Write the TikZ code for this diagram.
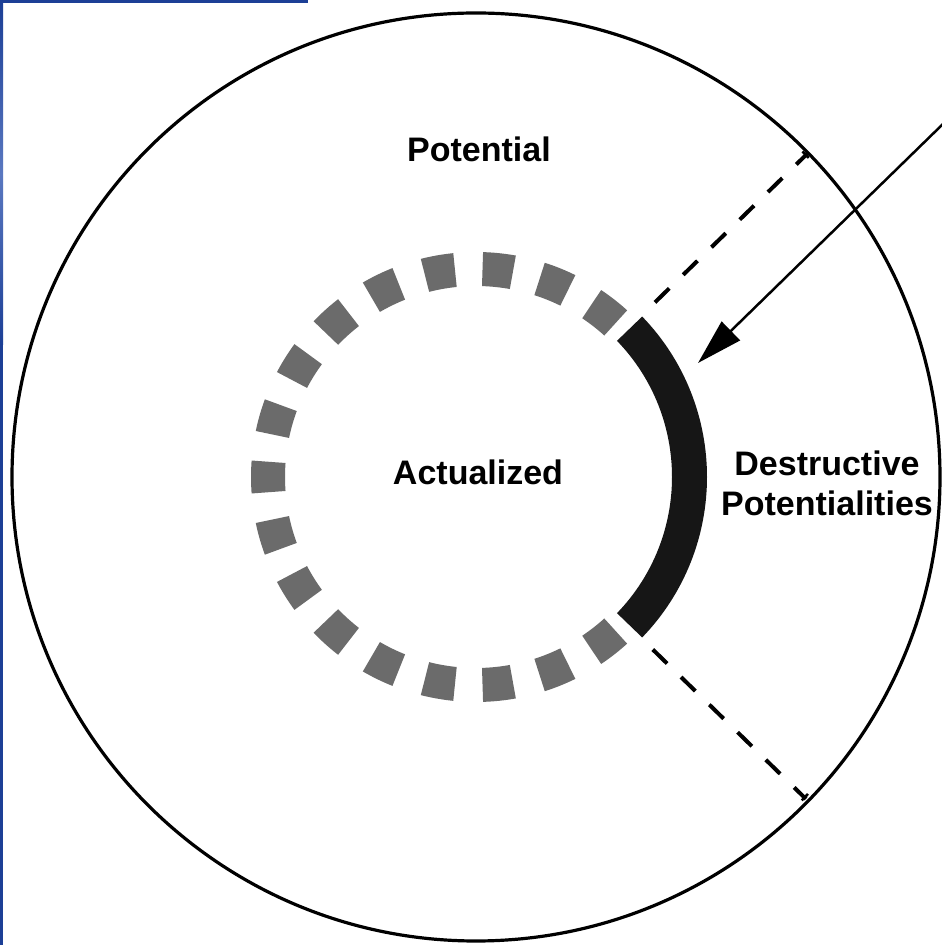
\documentclass[tikz,border=0pt]{standalone}
\usepackage{fontspec}
\setmainfont{Liberation Sans}
\usetikzlibrary{arrows.meta,calc}
\definecolor{frameblue}{HTML}{1C3F96}
\definecolor{framelight}{HTML}{5A78C0}
\definecolor{ringgray}{HTML}{6B6B6B}
\definecolor{arcblack}{HTML}{161616}
\begin{document}
\begin{tikzpicture}[x=1pt,y=1pt,
  lbl/.style={font=\bfseries\fontsize{34}{40}\selectfont, inner sep=0pt},
  dashline/.style={line width=4pt, dash pattern=on 20pt off 19.5pt},
  tickline/.style={line width=2.5pt}]
\useasboundingbox (0,0) rectangle (942,945);
\fill[white] (0,0) rectangle (942,945);
% slide frame fragments
\fill[frameblue] (0,942) rectangle (308,945);
\fill[frameblue] (0,0) rectangle (3,945);
\shade[top color=frameblue, bottom color=frameblue, middle color=framelight] (0,600) rectangle (3,942);
% outer circle
\coordinate (C) at (476,468);
\draw[line width=3.2pt] (C) circle[radius=464];
% inner dashed ring and black arc
\begin{scope}[shift={(C)}]
\foreach \k in {-8,...,8}{
  \pgfmathsetmacro\a{180+16*\k}
  \fill[ringgray] (\a-4.2:191) arc[start angle=\a-4.2,end angle=\a+4.2,radius=191]
     -- (\a+4.2:225) arc[start angle=\a+4.2,end angle=\a-4.2,radius=225] -- cycle;
}
\fill[arcblack] (-44:196) arc[start angle=-44,end angle=44,radius=196]
   -- (44:231) arc[start angle=44,end angle=-44,radius=231] -- cycle;
\coordinate (d1s) at (44.3:250);
\coordinate (d1e) at (44.3:463);
\coordinate (d2s) at (-44.3:247);
\coordinate (d2e) at (-44.3:461);
\coordinate (t1a) at ($(44.3:461)+(134.3:5)$);
\coordinate (t1b) at ($(44.3:461)+(-45.7:4)$);
\coordinate (t2a) at ($(-44.3:459)+(45.7:5)$);
\coordinate (t2b) at ($(-44.3:459)+(-134.3:4)$);
\end{scope}
\draw[dashline] (d1s) -- (d1e);
\draw[dashline] (d2s) -- (d2e);
\draw[tickline] (t1a) -- (t1b);
\draw[tickline] (t2a) -- (t2b);
% arrow
\coordinate (arrS) at (944,822);
\coordinate (arrE) at (698,582);
\draw[line width=2.5pt, -{Triangle[length=46pt,width=26pt]}] (arrS) -- (arrE);
% labels
\node[lbl, anchor=base] (pot) at (479,783) {Potential};
\node[lbl, anchor=base] (act) at (478,460) {Actualized};
\node[lbl, align=center] (destr) at (827,462) {Destructive\\Potentialities};
\end{tikzpicture}
\end{document}
